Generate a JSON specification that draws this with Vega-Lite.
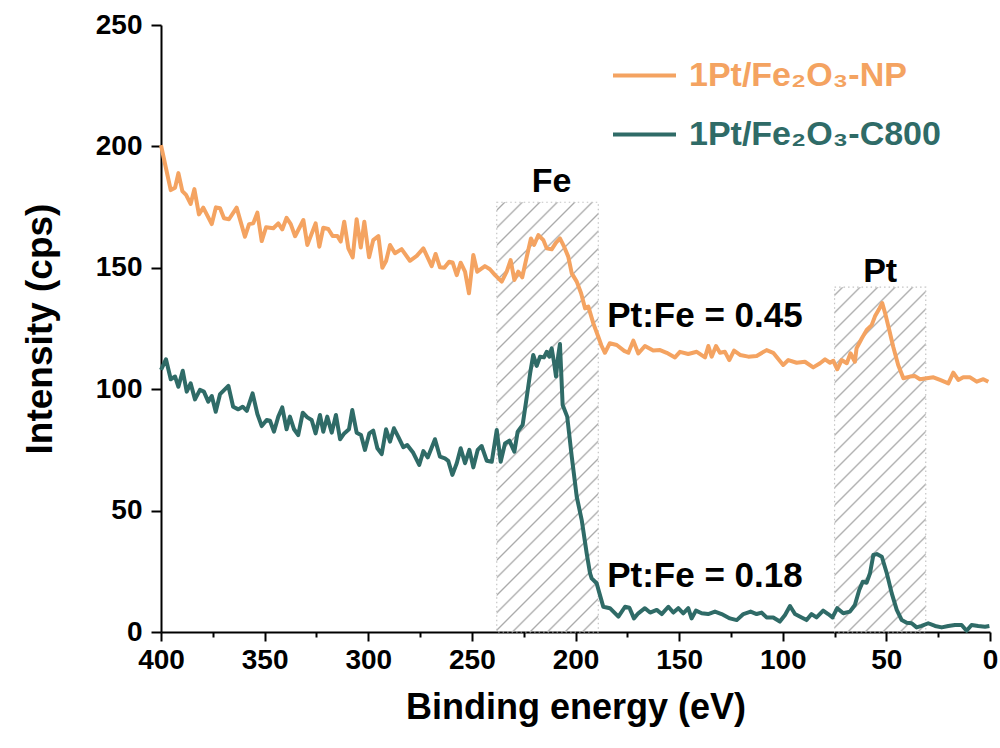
{
  "$schema": "https://vega.github.io/schema/vega-lite/v6.json",
  "width": 829,
  "height": 607,
  "autosize": "none",
  "padding": {"left": 161, "top": 25, "right": 10, "bottom": 116},
  "background": "white",
  "config": {
    "view": {"stroke": null},
    "font": "Liberation Sans",
    "axis": {
      "domainColor": "black", "domainWidth": 2, "tickColor": "black", "tickWidth": 2,
      "labelColor": "black", "titleColor": "black", "grid": false,
      "labelFont": "Liberation Sans", "labelFontWeight": "bold", "labelFontSize": 28,
      "titleFont": "Liberation Sans", "titleFontWeight": "bold", "titleFontSize": 36,
      "labelFlush": false, "labelOverlap": false
    }
  },
  "datasets": {
    "np": [
      {"energy":400,"intensity":200.5},{"energy":397.6,"intensity":191},{"energy":395.3,"intensity":182},{"energy":393.2,"intensity":183},{"energy":391.6,"intensity":189},{"energy":389.7,"intensity":181.6},{"energy":387.9,"intensity":180},{"energy":385.7,"intensity":176.3},{"energy":383.9,"intensity":182.4},{"energy":381.7,"intensity":172},{"energy":379.6,"intensity":174.8},{"energy":375.5,"intensity":168},{"energy":373.5,"intensity":174.9},{"energy":371.5,"intensity":174.5},{"energy":369.6,"intensity":170.4},{"energy":367.2,"intensity":170},{"energy":363.5,"intensity":174.8},{"energy":359.5,"intensity":162.8},{"energy":357.5,"intensity":168},{"energy":355.5,"intensity":168.3},{"energy":353.5,"intensity":172.7},{"energy":351.4,"intensity":161},{"energy":349.3,"intensity":166.7},{"energy":345.8,"intensity":166.3},{"energy":343.4,"intensity":168.3},{"energy":341.5,"intensity":165.8},{"energy":339.4,"intensity":170.6},{"energy":337.4,"intensity":168},{"energy":335.3,"intensity":163},{"energy":331.3,"intensity":169.7},{"energy":329.4,"intensity":159.4},{"energy":325.4,"intensity":168.3},{"energy":323.6,"intensity":158.7},{"energy":321.7,"intensity":166.5},{"energy":319.3,"intensity":166},{"energy":317.2,"intensity":163.1},{"energy":314.9,"intensity":163.1},{"energy":313.3,"intensity":160.8},{"energy":311.6,"intensity":169},{"energy":309.6,"intensity":158},{"energy":307.5,"intensity":154.3},{"energy":305.6,"intensity":170},{"energy":303.6,"intensity":158.4},{"energy":301.9,"intensity":169},{"energy":299.6,"intensity":154.3},{"energy":297.6,"intensity":161.4},{"energy":295.1,"intensity":163.1},{"energy":293.2,"intensity":150},{"energy":291.4,"intensity":152.8},{"energy":289.5,"intensity":159.4},{"energy":287.1,"intensity":156},{"energy":283.9,"intensity":157.7},{"energy":279.9,"intensity":152.9},{"energy":276.6,"intensity":154.9},{"energy":273.4,"intensity":158},{"energy":269.4,"intensity":150.7},{"energy":267.5,"intensity":155.7},{"energy":265.4,"intensity":150.2},{"energy":263.3,"intensity":150},{"energy":261,"intensity":152.5},{"energy":259.3,"intensity":152.2},{"energy":257.3,"intensity":147},{"energy":255.4,"intensity":152.1},{"energy":253.3,"intensity":148.4},{"energy":251.4,"intensity":139.5},{"energy":249.3,"intensity":155.3},{"energy":247.4,"intensity":148.4},{"energy":243.7,"intensity":150.7},{"energy":241.3,"intensity":149.4},{"energy":238.8,"intensity":147},{"energy":235.6,"intensity":144.3},{"energy":233.2,"intensity":148.4},{"energy":231.3,"intensity":153.2},{"energy":229.5,"intensity":145},{"energy":227.6,"intensity":148.4},{"energy":225.7,"intensity":146.1},{"energy":223.5,"intensity":154.6},{"energy":221.5,"intensity":162.1},{"energy":220,"intensity":159.4},{"energy":217.9,"intensity":163.5},{"energy":215.5,"intensity":161.4},{"energy":213.9,"intensity":158},{"energy":211.5,"intensity":157.6},{"energy":209.4,"intensity":160.4},{"energy":207.5,"intensity":162.1},{"energy":205.5,"intensity":158.7},{"energy":203.5,"intensity":154.6},{"energy":201.8,"intensity":147.7},{"energy":199.4,"intensity":144.3},{"energy":197.3,"intensity":139.5},{"energy":195.4,"intensity":133.3},{"energy":193.8,"intensity":134},{"energy":191.4,"intensity":127.1},{"energy":189,"intensity":121.6},{"energy":187.5,"intensity":118},{"energy":185.8,"intensity":115},{"energy":183.5,"intensity":118.9},{"energy":180.1,"intensity":118.2},{"energy":176.5,"intensity":115.8},{"energy":174.5,"intensity":115},{"energy":172.1,"intensity":120},{"energy":169.7,"intensity":114.7},{"energy":166.5,"intensity":117.8},{"energy":162.5,"intensity":115.9},{"energy":159.2,"intensity":116.1},{"energy":156,"intensity":115},{"energy":152,"intensity":113.1},{"energy":149.6,"intensity":115.4},{"energy":145.6,"intensity":114.5},{"energy":141.5,"intensity":115.4},{"energy":137.5,"intensity":113.1},{"energy":135.9,"intensity":117.8},{"energy":134.3,"intensity":113.4},{"energy":132.2,"intensity":117.8},{"energy":130.3,"intensity":115},{"energy":127.9,"intensity":115.4},{"energy":125.8,"intensity":112},{"energy":123.5,"intensity":115.9},{"energy":120.6,"intensity":114.1},{"energy":116.6,"intensity":113.4},{"energy":112.6,"intensity":113.7},{"energy":107.8,"intensity":116.1},{"energy":104.6,"intensity":115},{"energy":99.8,"intensity":110},{"energy":97.3,"intensity":112},{"energy":93.3,"intensity":110.9},{"energy":89.3,"intensity":111.3},{"energy":85.3,"intensity":109},{"energy":82,"intensity":110.7},{"energy":79.6,"intensity":112.3},{"energy":77.2,"intensity":110.9},{"energy":75.6,"intensity":111.7},{"energy":73.7,"intensity":108.2},{"energy":71.6,"intensity":112},{"energy":69.1,"intensity":110.7},{"energy":67.3,"intensity":114.8},{"energy":65.2,"intensity":111.3},{"energy":64.4,"intensity":116.8},{"energy":61.9,"intensity":120.9},{"energy":59.5,"intensity":124.4},{"energy":57.1,"intensity":126.4},{"energy":55.5,"intensity":130},{"energy":53.5,"intensity":133},{"energy":52,"intensity":135.5},{"energy":50.5,"intensity":131},{"energy":48.5,"intensity":124},{"energy":46.7,"intensity":117.5},{"energy":44.3,"intensity":110},{"energy":41.8,"intensity":104.5},{"energy":38.6,"intensity":105.2},{"energy":36.2,"intensity":105.4},{"energy":33.8,"intensity":104.1},{"energy":30.5,"intensity":104.5},{"energy":27.3,"intensity":104.9},{"energy":24.1,"intensity":103.8},{"energy":20.1,"intensity":102.4},{"energy":17.7,"intensity":106.8},{"energy":15.3,"intensity":103.8},{"energy":12.9,"intensity":104.9},{"energy":9.6,"intensity":104.9},{"energy":6.4,"intensity":103.1},{"energy":3.2,"intensity":104.1},{"energy":0.8,"intensity":103.1}
    ],
    "c800": [
      {"energy":400,"intensity":108},{"energy":397.6,"intensity":112.3},{"energy":395.3,"intensity":104.1},{"energy":393.2,"intensity":105.2},{"energy":391.6,"intensity":101},{"energy":389.5,"intensity":107.6},{"energy":387.6,"intensity":99},{"energy":385.7,"intensity":102.4},{"energy":383.6,"intensity":95.8},{"energy":381.2,"intensity":99.7},{"energy":379.3,"intensity":99},{"energy":377.2,"intensity":94.9},{"energy":375.5,"intensity":97.2},{"energy":373.6,"intensity":90.7},{"energy":371.5,"intensity":98},{"energy":367.5,"intensity":101.4},{"energy":365.2,"intensity":92.8},{"energy":362.7,"intensity":91.7},{"energy":360.6,"intensity":92.8},{"energy":358.6,"intensity":91.1},{"energy":355.8,"intensity":98.3},{"energy":353.5,"intensity":89.8},{"energy":351.4,"intensity":84.8},{"energy":349,"intensity":87.3},{"energy":347.4,"intensity":87},{"energy":345.5,"intensity":82.5},{"energy":343.4,"intensity":88.7},{"energy":341.5,"intensity":92.5},{"energy":339.4,"intensity":83.5},{"energy":337.8,"intensity":88.7},{"energy":335.8,"intensity":83.5},{"energy":333.8,"intensity":81.1},{"energy":331.6,"intensity":90.3},{"energy":329.4,"intensity":88.4},{"energy":327.3,"intensity":87.3},{"energy":325.4,"intensity":81.8},{"energy":323.3,"intensity":89.4},{"energy":321.7,"intensity":82.5},{"energy":319.8,"intensity":88.7},{"energy":317.6,"intensity":82.1},{"energy":315.6,"intensity":89.4},{"energy":313.6,"intensity":79.4},{"energy":311.6,"intensity":81.8},{"energy":309.3,"intensity":83.5},{"energy":307.7,"intensity":91.4},{"energy":305.6,"intensity":82.1},{"energy":303.5,"intensity":81.1},{"energy":301.6,"intensity":75},{"energy":299.5,"intensity":81.8},{"energy":297.6,"intensity":82.9},{"energy":295.6,"intensity":75.7},{"energy":293.5,"intensity":73.3},{"energy":291.4,"intensity":83.5},{"energy":289.5,"intensity":78.4},{"energy":287.6,"intensity":83.9},{"energy":285.5,"intensity":80.4},{"energy":283.1,"intensity":76.1},{"energy":281.2,"intensity":77},{"energy":278.3,"intensity":73.8},{"energy":275.4,"intensity":68.8},{"energy":273.4,"intensity":74.5},{"energy":271.3,"intensity":71.9},{"energy":267.8,"intensity":79.4},{"energy":265.4,"intensity":72.2},{"energy":263,"intensity":71.5},{"energy":261.4,"intensity":70.5},{"energy":259.4,"intensity":64.7},{"energy":257.3,"intensity":69.5},{"energy":255.4,"intensity":75.7},{"energy":253.3,"intensity":69.5},{"energy":251.2,"intensity":75},{"energy":249.3,"intensity":67.8},{"energy":247.2,"intensity":75},{"energy":245.3,"intensity":76.6},{"energy":242.8,"intensity":70.5},{"energy":240.4,"intensity":70.1},{"energy":238,"intensity":83.2},{"energy":236.1,"intensity":70.1},{"energy":234,"intensity":77.7},{"energy":231.9,"intensity":78.8},{"energy":229.5,"intensity":74.3},{"energy":227.9,"intensity":82.5},{"energy":225.5,"intensity":85.3},{"energy":223.5,"intensity":96.9},{"energy":221.9,"intensity":106.5},{"energy":220.4,"intensity":114.1},{"energy":218.7,"intensity":109.6},{"energy":217.1,"intensity":113.4},{"energy":215.2,"intensity":113.1},{"energy":213.9,"intensity":115.4},{"energy":212.6,"intensity":113.4},{"energy":211.5,"intensity":116.8},{"energy":210.4,"intensity":111.3},{"energy":209.4,"intensity":105.2},{"energy":208.3,"intensity":114.1},{"energy":207.5,"intensity":118.6},{"energy":206.2,"intensity":93.5},{"energy":204,"intensity":88.7},{"energy":201.8,"intensity":72.2},{"energy":199.4,"intensity":55.7},{"energy":197,"intensity":46.1},{"energy":194.6,"intensity":32.4},{"energy":193,"intensity":24.2},{"energy":192.2,"intensity":22.1},{"energy":189.8,"intensity":20.1},{"energy":188.2,"intensity":15.2},{"energy":186.6,"intensity":10.4},{"energy":183.4,"intensity":9.8},{"energy":179.3,"intensity":6.3},{"energy":176.1,"intensity":10.4},{"energy":174,"intensity":10},{"energy":171.8,"intensity":5.6},{"energy":169.7,"intensity":7.7},{"energy":166.5,"intensity":9.8},{"energy":164,"intensity":8},{"energy":160.8,"intensity":9.1},{"energy":158.4,"intensity":7.4},{"energy":155.2,"intensity":10.4},{"energy":152.8,"intensity":8},{"energy":150.4,"intensity":9.8},{"energy":148,"intensity":7.7},{"energy":145.6,"intensity":9.8},{"energy":144,"intensity":5.6},{"energy":141.9,"intensity":8.8},{"energy":139.1,"intensity":7.7},{"energy":136,"intensity":7.4},{"energy":132.7,"intensity":8.4},{"energy":129.5,"intensity":7.4},{"energy":125.5,"intensity":5.6},{"energy":122.2,"intensity":4.9},{"energy":119,"intensity":7.4},{"energy":115.5,"intensity":8.4},{"energy":112.6,"intensity":7.4},{"energy":110.2,"intensity":8},{"energy":107.8,"intensity":6},{"energy":104.6,"intensity":6},{"energy":101.4,"intensity":4.3},{"energy":98.9,"intensity":7},{"energy":96.5,"intensity":10.7},{"energy":94.1,"intensity":7.4},{"energy":90.9,"intensity":6},{"energy":88.5,"intensity":4.9},{"energy":86.1,"intensity":7.4},{"energy":83.7,"intensity":6},{"energy":80.5,"intensity":8.8},{"energy":78.1,"intensity":7.4},{"energy":76,"intensity":6},{"energy":73.7,"intensity":9.8},{"energy":70.8,"intensity":7.7},{"energy":67.6,"intensity":8.4},{"energy":65.2,"intensity":11.1},{"energy":63.1,"intensity":17.3},{"energy":61.4,"intensity":20.7},{"energy":59.5,"intensity":20.3},{"energy":57.9,"intensity":24.2},{"energy":56.3,"intensity":31.7},{"energy":54.6,"intensity":32.1},{"energy":52.2,"intensity":31},{"energy":49.8,"intensity":24.2},{"energy":47.4,"intensity":15.9},{"energy":45,"intensity":9.1},{"energy":42.6,"intensity":4.9},{"energy":40.2,"intensity":3.8},{"energy":37.8,"intensity":3.6},{"energy":35.4,"intensity":1.9},{"energy":33,"intensity":2.5},{"energy":29.8,"intensity":3.6},{"energy":26.5,"intensity":2.5},{"energy":23.3,"intensity":1.9},{"energy":20.1,"intensity":2.5},{"energy":16.9,"intensity":2.9},{"energy":13.7,"intensity":2.9},{"energy":11.3,"intensity":0.5},{"energy":8.9,"intensity":2.9},{"energy":5.7,"intensity":2.5},{"energy":2.4,"intensity":2.2},{"energy":0.3,"intensity":2.5}
    ]
  },
  "encoding": {
    "x": {
      "field": "energy", "type": "quantitative",
      "scale": {"domain": [0, 400], "reverse": true, "nice": false, "zero": false},
      "axis": {
        "title": "Binding energy (eV)",
        "values": [0,25,50,75,100,125,150,175,200,225,250,275,300,325,350,375,400],
        "labelExpr": "datum.value % 50 === 0 ? datum.label : ''",
        "tickSize": {"condition": {"test": "datum.value % 50 !== 0", "value": 5}, "value": 9},
        "labelPadding": 5,
        "titlePadding": 16
      }
    },
    "y": {
      "field": "intensity", "type": "quantitative",
      "scale": {"domain": [0, 250], "nice": false, "zero": false},
      "axis": {
        "title": "Intensity (cps)",
        "values": [0, 50, 100, 150, 200, 250],
        "tickSize": 10,
        "labelPadding": 9,
        "titlePadding": 36,
        "titleFontSize": 37
      }
    }
  },
  "layer": [
    {
      "data": {"values": [{"energy": 238, "energy2": 189, "intensity": 177}]},
      "mark": {
        "type": "rect", "stroke": "#c4c4c4", "strokeWidth": 1.2, "strokeDash": [1.5, 3],
        "fill": {
          "gradient": "linear", "x1": 0, "y1": 0, "x2": 0.2768, "y2": 1.171,
          "stops": [
            {"offset":0.0116,"color":"rgba(170,170,170,0)"},{"offset":0.0151,"color":"#aaaaaa"},{"offset":0.0186,"color":"rgba(170,170,170,0)"},
            {"offset":0.0445,"color":"rgba(170,170,170,0)"},{"offset":0.0480,"color":"#aaaaaa"},{"offset":0.0515,"color":"rgba(170,170,170,0)"},
            {"offset":0.0774,"color":"rgba(170,170,170,0)"},{"offset":0.0809,"color":"#aaaaaa"},{"offset":0.0844,"color":"rgba(170,170,170,0)"},
            {"offset":0.1104,"color":"rgba(170,170,170,0)"},{"offset":0.1139,"color":"#aaaaaa"},{"offset":0.1174,"color":"rgba(170,170,170,0)"},
            {"offset":0.1433,"color":"rgba(170,170,170,0)"},{"offset":0.1468,"color":"#aaaaaa"},{"offset":0.1503,"color":"rgba(170,170,170,0)"},
            {"offset":0.1762,"color":"rgba(170,170,170,0)"},{"offset":0.1797,"color":"#aaaaaa"},{"offset":0.1832,"color":"rgba(170,170,170,0)"},
            {"offset":0.2092,"color":"rgba(170,170,170,0)"},{"offset":0.2127,"color":"#aaaaaa"},{"offset":0.2162,"color":"rgba(170,170,170,0)"},
            {"offset":0.2421,"color":"rgba(170,170,170,0)"},{"offset":0.2456,"color":"#aaaaaa"},{"offset":0.2491,"color":"rgba(170,170,170,0)"},
            {"offset":0.2750,"color":"rgba(170,170,170,0)"},{"offset":0.2785,"color":"#aaaaaa"},{"offset":0.2820,"color":"rgba(170,170,170,0)"},
            {"offset":0.3079,"color":"rgba(170,170,170,0)"},{"offset":0.3114,"color":"#aaaaaa"},{"offset":0.3149,"color":"rgba(170,170,170,0)"},
            {"offset":0.3409,"color":"rgba(170,170,170,0)"},{"offset":0.3444,"color":"#aaaaaa"},{"offset":0.3479,"color":"rgba(170,170,170,0)"},
            {"offset":0.3738,"color":"rgba(170,170,170,0)"},{"offset":0.3773,"color":"#aaaaaa"},{"offset":0.3808,"color":"rgba(170,170,170,0)"},
            {"offset":0.4067,"color":"rgba(170,170,170,0)"},{"offset":0.4102,"color":"#aaaaaa"},{"offset":0.4137,"color":"rgba(170,170,170,0)"},
            {"offset":0.4397,"color":"rgba(170,170,170,0)"},{"offset":0.4432,"color":"#aaaaaa"},{"offset":0.4467,"color":"rgba(170,170,170,0)"},
            {"offset":0.4726,"color":"rgba(170,170,170,0)"},{"offset":0.4761,"color":"#aaaaaa"},{"offset":0.4796,"color":"rgba(170,170,170,0)"},
            {"offset":0.5055,"color":"rgba(170,170,170,0)"},{"offset":0.5090,"color":"#aaaaaa"},{"offset":0.5125,"color":"rgba(170,170,170,0)"},
            {"offset":0.5385,"color":"rgba(170,170,170,0)"},{"offset":0.5420,"color":"#aaaaaa"},{"offset":0.5455,"color":"rgba(170,170,170,0)"},
            {"offset":0.5714,"color":"rgba(170,170,170,0)"},{"offset":0.5749,"color":"#aaaaaa"},{"offset":0.5784,"color":"rgba(170,170,170,0)"},
            {"offset":0.6043,"color":"rgba(170,170,170,0)"},{"offset":0.6078,"color":"#aaaaaa"},{"offset":0.6113,"color":"rgba(170,170,170,0)"},
            {"offset":0.6373,"color":"rgba(170,170,170,0)"},{"offset":0.6408,"color":"#aaaaaa"},{"offset":0.6443,"color":"rgba(170,170,170,0)"},
            {"offset":0.6702,"color":"rgba(170,170,170,0)"},{"offset":0.6737,"color":"#aaaaaa"},{"offset":0.6772,"color":"rgba(170,170,170,0)"},
            {"offset":0.7031,"color":"rgba(170,170,170,0)"},{"offset":0.7066,"color":"#aaaaaa"},{"offset":0.7101,"color":"rgba(170,170,170,0)"},
            {"offset":0.7361,"color":"rgba(170,170,170,0)"},{"offset":0.7396,"color":"#aaaaaa"},{"offset":0.7431,"color":"rgba(170,170,170,0)"},
            {"offset":0.7690,"color":"rgba(170,170,170,0)"},{"offset":0.7725,"color":"#aaaaaa"},{"offset":0.7760,"color":"rgba(170,170,170,0)"},
            {"offset":0.8019,"color":"rgba(170,170,170,0)"},{"offset":0.8054,"color":"#aaaaaa"},{"offset":0.8089,"color":"rgba(170,170,170,0)"},
            {"offset":0.8349,"color":"rgba(170,170,170,0)"},{"offset":0.8384,"color":"#aaaaaa"},{"offset":0.8419,"color":"rgba(170,170,170,0)"},
            {"offset":0.8678,"color":"rgba(170,170,170,0)"},{"offset":0.8713,"color":"#aaaaaa"},{"offset":0.8748,"color":"rgba(170,170,170,0)"},
            {"offset":0.9007,"color":"rgba(170,170,170,0)"},{"offset":0.9042,"color":"#aaaaaa"},{"offset":0.9077,"color":"rgba(170,170,170,0)"},
            {"offset":0.9337,"color":"rgba(170,170,170,0)"},{"offset":0.9372,"color":"#aaaaaa"},{"offset":0.9407,"color":"rgba(170,170,170,0)"},
            {"offset":0.9666,"color":"rgba(170,170,170,0)"},{"offset":0.9701,"color":"#aaaaaa"},{"offset":0.9736,"color":"rgba(170,170,170,0)"}
          ]
        }
      },
      "encoding": {"x2": {"field": "energy2"}, "y2": {"datum": 0}}
    },
    {
      "data": {"values": [{"energy": 75, "energy2": 31, "intensity": 142}]},
      "mark": {
        "type": "rect", "stroke": "#c4c4c4", "strokeWidth": 1.2, "strokeDash": [1.5, 3],
        "fill": {
          "gradient": "linear", "x1": 0, "y1": 0, "x2": 0.3126, "y2": 1.1818,
          "stops": [
            {"offset":0.0140,"color":"rgba(170,170,170,0)"},{"offset":0.0183,"color":"#aaaaaa"},{"offset":0.0226,"color":"rgba(170,170,170,0)"},
            {"offset":0.0542,"color":"rgba(170,170,170,0)"},{"offset":0.0585,"color":"#aaaaaa"},{"offset":0.0628,"color":"rgba(170,170,170,0)"},
            {"offset":0.0943,"color":"rgba(170,170,170,0)"},{"offset":0.0986,"color":"#aaaaaa"},{"offset":0.1029,"color":"rgba(170,170,170,0)"},
            {"offset":0.1345,"color":"rgba(170,170,170,0)"},{"offset":0.1388,"color":"#aaaaaa"},{"offset":0.1431,"color":"rgba(170,170,170,0)"},
            {"offset":0.1746,"color":"rgba(170,170,170,0)"},{"offset":0.1789,"color":"#aaaaaa"},{"offset":0.1832,"color":"rgba(170,170,170,0)"},
            {"offset":0.2147,"color":"rgba(170,170,170,0)"},{"offset":0.2190,"color":"#aaaaaa"},{"offset":0.2233,"color":"rgba(170,170,170,0)"},
            {"offset":0.2549,"color":"rgba(170,170,170,0)"},{"offset":0.2592,"color":"#aaaaaa"},{"offset":0.2635,"color":"rgba(170,170,170,0)"},
            {"offset":0.2950,"color":"rgba(170,170,170,0)"},{"offset":0.2993,"color":"#aaaaaa"},{"offset":0.3036,"color":"rgba(170,170,170,0)"},
            {"offset":0.3351,"color":"rgba(170,170,170,0)"},{"offset":0.3394,"color":"#aaaaaa"},{"offset":0.3437,"color":"rgba(170,170,170,0)"},
            {"offset":0.3753,"color":"rgba(170,170,170,0)"},{"offset":0.3796,"color":"#aaaaaa"},{"offset":0.3839,"color":"rgba(170,170,170,0)"},
            {"offset":0.4154,"color":"rgba(170,170,170,0)"},{"offset":0.4197,"color":"#aaaaaa"},{"offset":0.4240,"color":"rgba(170,170,170,0)"},
            {"offset":0.4556,"color":"rgba(170,170,170,0)"},{"offset":0.4599,"color":"#aaaaaa"},{"offset":0.4642,"color":"rgba(170,170,170,0)"},
            {"offset":0.4957,"color":"rgba(170,170,170,0)"},{"offset":0.5000,"color":"#aaaaaa"},{"offset":0.5043,"color":"rgba(170,170,170,0)"},
            {"offset":0.5358,"color":"rgba(170,170,170,0)"},{"offset":0.5401,"color":"#aaaaaa"},{"offset":0.5444,"color":"rgba(170,170,170,0)"},
            {"offset":0.5760,"color":"rgba(170,170,170,0)"},{"offset":0.5803,"color":"#aaaaaa"},{"offset":0.5846,"color":"rgba(170,170,170,0)"},
            {"offset":0.6161,"color":"rgba(170,170,170,0)"},{"offset":0.6204,"color":"#aaaaaa"},{"offset":0.6247,"color":"rgba(170,170,170,0)"},
            {"offset":0.6563,"color":"rgba(170,170,170,0)"},{"offset":0.6606,"color":"#aaaaaa"},{"offset":0.6649,"color":"rgba(170,170,170,0)"},
            {"offset":0.6964,"color":"rgba(170,170,170,0)"},{"offset":0.7007,"color":"#aaaaaa"},{"offset":0.7050,"color":"rgba(170,170,170,0)"},
            {"offset":0.7365,"color":"rgba(170,170,170,0)"},{"offset":0.7408,"color":"#aaaaaa"},{"offset":0.7451,"color":"rgba(170,170,170,0)"},
            {"offset":0.7767,"color":"rgba(170,170,170,0)"},{"offset":0.7810,"color":"#aaaaaa"},{"offset":0.7853,"color":"rgba(170,170,170,0)"},
            {"offset":0.8168,"color":"rgba(170,170,170,0)"},{"offset":0.8211,"color":"#aaaaaa"},{"offset":0.8254,"color":"rgba(170,170,170,0)"},
            {"offset":0.8569,"color":"rgba(170,170,170,0)"},{"offset":0.8612,"color":"#aaaaaa"},{"offset":0.8655,"color":"rgba(170,170,170,0)"},
            {"offset":0.8971,"color":"rgba(170,170,170,0)"},{"offset":0.9014,"color":"#aaaaaa"},{"offset":0.9057,"color":"rgba(170,170,170,0)"},
            {"offset":0.9372,"color":"rgba(170,170,170,0)"},{"offset":0.9415,"color":"#aaaaaa"},{"offset":0.9458,"color":"rgba(170,170,170,0)"},
            {"offset":0.9774,"color":"rgba(170,170,170,0)"},{"offset":0.9817,"color":"#aaaaaa"},{"offset":0.9860,"color":"rgba(170,170,170,0)"}
          ]
        }
      },
      "encoding": {"x2": {"field": "energy2"}, "y2": {"datum": 0}}
    },
    {
      "data": {"name": "np"},
      "mark": {"type": "line", "strokeWidth": 4, "strokeJoin": "round"},
      "encoding": {
        "color": {
          "datum": "1Pt/Fe₂O₃-NP",
          "scale": {"domain": ["1Pt/Fe₂O₃-NP", "1Pt/Fe₂O₃-C800"], "range": ["#F4A361", "#2F6B67"]},
          "legend": {
            "title": null, "orient": "none", "legendX": 450, "legendY": 17,
            "symbolType": "stroke", "symbolSize": 3969, "symbolStrokeWidth": 4,
            "labelFont": "Liberation Sans", "labelFontWeight": "bold", "labelFontSize": 34,
            "labelOffset": 11, "rowPadding": 8, "labelLimit": 600,
            "labelColor": {"expr": "test(/NP/, datum.label) ? '#F4A361' : '#2F6B67'"}
          }
        }
      }
    },
    {
      "data": {"name": "c800"},
      "mark": {"type": "line", "strokeWidth": 4, "strokeJoin": "round"},
      "encoding": {"color": {"datum": "1Pt/Fe₂O₃-C800"}}
    },
    {
      "data": {"values": [
        {"energy": 211.5, "intensity": 181.3, "label": "Fe"},
        {"energy": 53, "intensity": 144.2, "label": "Pt"}
      ]},
      "mark": {"type": "text", "align": "center", "baseline": "alphabetic", "font": "Liberation Sans", "fontWeight": "bold", "fontSize": 34, "color": "black"},
      "encoding": {"text": {"field": "label"}}
    },
    {
      "data": {"values": [
        {"energy": 184.7, "intensity": 125.5, "label": "Pt:Fe = 0.45"},
        {"energy": 184.7, "intensity": 18.7, "label": "Pt:Fe = 0.18"}
      ]},
      "mark": {"type": "text", "align": "left", "baseline": "alphabetic", "font": "Liberation Sans", "fontWeight": "bold", "fontSize": 35, "color": "black"},
      "encoding": {"text": {"field": "label"}}
    }
  ]
}
